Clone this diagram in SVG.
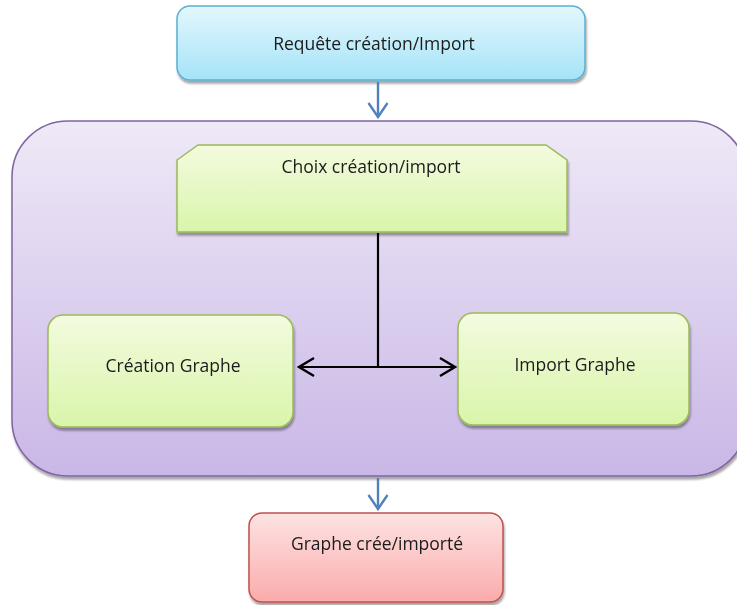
<svg xmlns="http://www.w3.org/2000/svg" width="737" height="605" viewBox="0 0 737 605">
  <defs>
    <linearGradient id="gBlue" x1="0" y1="0" x2="0" y2="1">
      <stop offset="0" stop-color="#e3f7fd"/>
      <stop offset="1" stop-color="#a5e3f8"/>
    </linearGradient>
    <linearGradient id="gPurple" x1="0" y1="0" x2="0" y2="1">
      <stop offset="0" stop-color="#efe9f7"/>
      <stop offset="1" stop-color="#c9b7e6"/>
    </linearGradient>
    <linearGradient id="gGreen" x1="0" y1="0" x2="0" y2="1">
      <stop offset="0" stop-color="#f3fbdf"/>
      <stop offset="1" stop-color="#d9f5aa"/>
    </linearGradient>
    <linearGradient id="gRed" x1="0" y1="0" x2="0" y2="1">
      <stop offset="0" stop-color="#fde3e3"/>
      <stop offset="1" stop-color="#fbabab"/>
    </linearGradient>
    <filter id="shadow" x="-10%" y="-10%" width="120%" height="130%">
      <feGaussianBlur in="SourceAlpha" stdDeviation="1.2"/>
      <feOffset dx="1" dy="2.5" result="b"/>
      <feComponentTransfer><feFuncA type="linear" slope="0.35"/></feComponentTransfer>
      <feMerge><feMergeNode/><feMergeNode in="SourceGraphic"/></feMerge>
    </filter>
    <!-- open chevron heads, drawn pointing along +x -->
    <marker id="blueHead" markerWidth="18" markerHeight="22" refX="16" refY="11" orient="auto-start-reverse" markerUnits="userSpaceOnUse" viewBox="0 0 18 22">
      <path d="M2,1.5 L16,11 L2,20.5" fill="none" stroke="#4f81bd" stroke-width="2.4"/>
    </marker>
    <marker id="blackHead" markerWidth="20" markerHeight="22" refX="18" refY="11" orient="auto-start-reverse" markerUnits="userSpaceOnUse" viewBox="0 0 20 22">
      <path d="M3,2 L18,11 L3,20" fill="none" stroke="#000" stroke-width="2.4"/>
    </marker>
  </defs>
  <style>
    .lbl { font-family: "Open Sans", "Liberation Sans", sans-serif; font-size: 17.5px; fill: #1a1a1a; text-anchor: middle; }
    .blue { fill: url(#gBlue); stroke: #5bb0cf; stroke-width: 1.5; }
    .purple { fill: url(#gPurple); stroke: #8064a2; stroke-width: 1.5; }
    .green { fill: url(#gGreen); stroke: #9bbb59; stroke-width: 1.5; }
    .red { fill: url(#gRed); stroke: #c0504d; stroke-width: 1.5; }
    .conn-blue { stroke: #4f81bd; stroke-width: 2.4; fill: none; }
    .conn-black { stroke: #000; stroke-width: 2.2; fill: none; }
  </style>

  <!-- request -->
  <g id="request" filter="url(#shadow)">
    <rect class="blue" x="177" y="6" width="408" height="74" rx="13"/>
    <text class="lbl" x="374" y="50">Requête création/Import</text>
  </g>

  <!-- processing container -->
  <g id="container" filter="url(#shadow)">
    <rect class="purple" x="12" y="121" width="735" height="355" rx="56"/>
  </g>

  <!-- choice -->
  <g id="choice" filter="url(#shadow)">
    <path class="green" d="M177,160 L198,145 L546,145 L567,160 L567,232 L177,232 Z"/>
    <text class="lbl" x="371" y="173">Choix création/import</text>
  </g>

  <!-- create -->
  <g id="create" filter="url(#shadow)">
    <rect class="green" x="48" y="315" width="245" height="112" rx="15"/>
    <text class="lbl" x="173" y="372">Création Graphe</text>
  </g>

  <!-- import -->
  <g id="import" filter="url(#shadow)">
    <rect class="green" x="458" y="313" width="231" height="112" rx="15"/>
    <text class="lbl" x="575" y="371">Import Graphe</text>
  </g>

  <!-- result -->
  <g id="result" filter="url(#shadow)">
    <rect class="red" x="249" y="513" width="254" height="89" rx="13"/>
    <text class="lbl" x="377" y="550">Graphe crée/importé</text>
  </g>

  <!-- connectors -->
  <g id="connectors">
    <line class="conn-blue" x1="378" y1="82" x2="378" y2="117" marker-end="url(#blueHead)"/>
    <line class="conn-blue" x1="378" y1="478" x2="378" y2="509" marker-end="url(#blueHead)"/>
    <line class="conn-black" x1="378" y1="233" x2="378" y2="367"/>
    <line class="conn-black" x1="299" y1="367" x2="455" y2="367" marker-start="url(#blackHead)" marker-end="url(#blackHead)"/>
  </g>
</svg>
